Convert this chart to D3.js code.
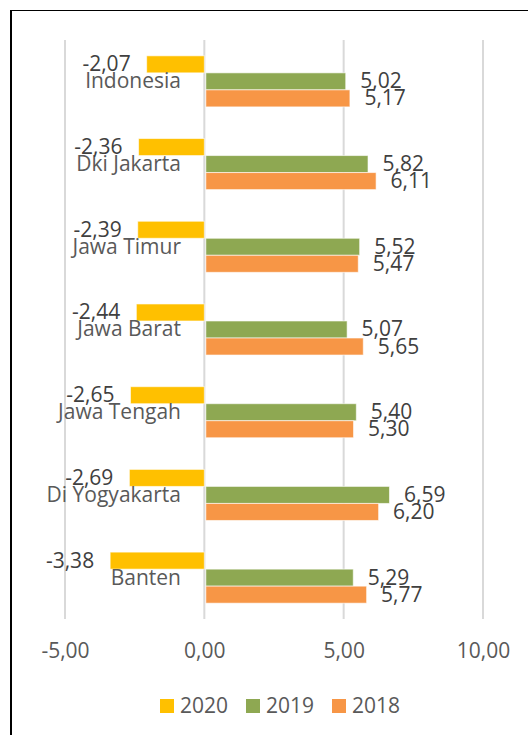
<!DOCTYPE html>
<html>
<head>
<meta charset="utf-8">
<script src="https://cdn.jsdelivr.net/npm/d3@7"></script>
<style>
  body { margin: 0; background: #fff; }
  svg text { font-family: "Open Sans", sans-serif; }
</style>
</head>
<body>
<svg id="chart" width="528" height="735"></svg>
<script>
var provinces = ['Indonesia', 'Dki Jakarta', 'Jawa Timur', 'Jawa Barat', 'Jawa Tengah', 'Di Yogyakarta', 'Banten'];
var years = ['2020', '2019', '2018'];
var v2020 = [-2.07, -2.36, -2.39, -2.44, -2.65, -2.69, -3.38];
var v2019 = [5.02, 5.82, 5.52, 5.07, 5.40, 6.59, 5.29];
var v2018 = [5.17, 6.11, 5.47, 5.65, 5.30, 6.20, 5.77];
var xTicks = [-5, 0, 5, 10];
var colors = { '2020': '#FFC000', '2019': '#8EA852', '2018': '#F79646' };

var rows = provinces.map((p, i) => ({ name: p, vals: { '2020': v2020[i], '2019': v2019[i], '2018': v2018[i] } }));
var fmt = v => d3.format('.2f')(v).replace('.', ',').replace('−', '-');
var fs = 21;

var svg = d3.select('#chart');

// outer frame
svg.append('line').attr('x1', 11).attr('x2', 11).attr('y1', 10).attr('y2', 735)
   .attr('stroke', '#000').attr('stroke-width', 2);
svg.append('line').attr('x1', 10).attr('x2', 528).attr('y1', 10.5).attr('y2', 10.5)
   .attr('stroke', '#000').attr('stroke-width', 1);

var x = d3.scaleLinear().domain([-5, 10]).range([65, 483]);
var y = d3.scaleBand().domain(provinces).range([40, 619]);
var ySub = d3.scaleBand().domain(years).range([0, y.bandwidth()]).paddingOuter(0.93);

// gridlines
svg.append('g').selectAll('line').data(xTicks).enter().append('line')
   .attr('x1', d => x(d)).attr('x2', d => x(d))
   .attr('y1', 40).attr('y2', 619)
   .attr('stroke', '#d9d9d9').attr('stroke-width', 2);

// axis labels
var axis = d3.axisBottom(x).tickValues(xTicks).tickFormat(fmt).tickSize(0).tickPadding(0);
var ax = svg.append('g').attr('transform', 'translate(0,643)').call(axis);
ax.select('.domain').remove();
ax.selectAll('text').attr('font-size', fs).attr('fill', '#595959')
  .attr('font-family', '"Open Sans", sans-serif');

var groups = svg.append('g').selectAll('g').data(rows).enter().append('g')
   .attr('transform', d => `translate(0,${y(d.name)})`);

// bars
groups.selectAll('rect').data(d => years.map(k => ({ k: k, v: d.vals[k] }))).enter().append('rect')
   .attr('x', d => Math.min(x(0), x(d.v)) + (d.v > 0 ? 1.5 : 0))
   .attr('width', d => Math.abs(x(d.v) - x(0)))
   .attr('y', d => ySub(d.k))
   .attr('height', ySub.bandwidth())
   .attr('fill', d => colors[d.k])
   .attr('stroke', '#fff').attr('stroke-opacity', 0.6).attr('stroke-width', 1);

// category labels
groups.append('text')
   .attr('x', 181).attr('y', y.bandwidth() / 2 + 7)
   .attr('text-anchor', 'end')
   .attr('font-size', fs).attr('fill', '#595959')
   .text(d => d.name);

// value labels
groups.selectAll('text.val').data(d => years.map(k => ({ k: k, v: d.vals[k] }))).enter().append('text')
   .attr('class', 'val')
   .attr('x', d => d.v < 0 ? x(d.v) - 16 : x(d.v) + 16)
   .attr('y', d => ySub(d.k) + ySub.bandwidth() / 2 + 7)
   .attr('text-anchor', d => d.v < 0 ? 'end' : 'start')
   .attr('font-size', fs).attr('fill', '#404040')
   .text(d => fmt(d.v));

// legend
var legend = svg.append('g').selectAll('g').data(years).enter().append('g')
   .attr('transform', (d, i) => `translate(${160 + i * 86},699)`);
legend.append('rect').attr('width', 14).attr('height', 14).attr('fill', d => colors[d]);
legend.append('text').attr('x', 20).attr('y', 14)
   .attr('font-size', fs).attr('fill', '#595959').text(d => d);
</script>
</body>
</html>
